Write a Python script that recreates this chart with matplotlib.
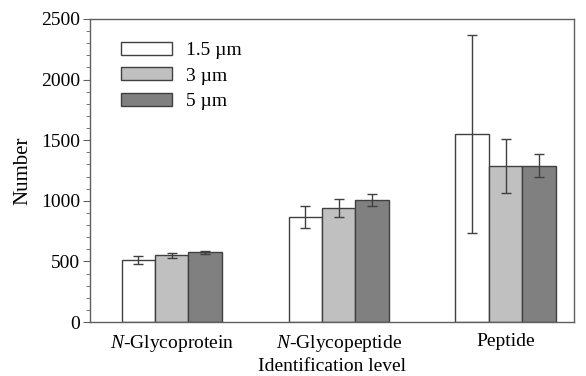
import matplotlib.pyplot as plt
import numpy as np

plt.rcParams['font.family'] = ['Liberation Serif', 'DejaVu Serif']
plt.rcParams['mathtext.fontset'] = 'custom'
plt.rcParams['mathtext.rm'] = 'Liberation Serif'
plt.rcParams['mathtext.it'] = 'Liberation Serif:italic'

categories = ["$\\mathit{N}$-Glycoprotein", "$\\mathit{N}$-Glycopeptide", "Peptide"]
series = ["1.5 µm", "3 µm", "5 µm"]
values = [
    [512, 866, 1551],
    [551, 942, 1290],
    [575, 1006, 1290],
]
errors = [
    [33, 88, 820],
    [22, 75, 222],
    [14, 48, 92],
]
colors = ["#ffffff", "#c0c0c0", "#808080"]

fig = plt.figure(figsize=(5.86, 3.76), dpi=100)
ax = fig.add_axes([0.1536, 0.1436, 0.8259, 0.8059])

x = np.arange(len(categories))
w = 0.2
for i in range(3):
    ax.bar(x + (i - 1) * w, values[i], w, color=colors[i], edgecolor="#404040",
           linewidth=1.0, label=series[i],
           yerr=errors[i], capsize=3.6,
           error_kw=dict(ecolor="#404040", elinewidth=1.0, capthick=1.0))

ax.set_xlim(-0.49, 2.41)
ax.set_ylim(0, 2500)
ax.set_xticks(x)
ax.set_xticklabels(categories, fontsize=14)
ax.set_yticks(np.arange(0, 2501, 500))
ax.set_yticks(np.arange(0, 2501, 100), minor=True)
ax.tick_params(axis='y', labelsize=14, direction='out', length=5, color="#606060", pad=2)
ax.tick_params(axis='y', which='minor', length=3, color="#606060")
ax.tick_params(axis='x', length=0, pad=8)
for s in ax.spines.values():
    s.set_color("#606060")
    s.set_linewidth(1.0)

ax.set_ylabel("Number", fontsize=15, labelpad=6)
ax.set_xlabel("Identification level", fontsize=14, labelpad=2.5)

ax.legend(loc="upper left", bbox_to_anchor=(0.065, 0.925), frameon=False, fontsize=14,
          handlelength=2.6, handleheight=0.65, labelspacing=0.42, handletextpad=0.7,
          borderaxespad=0, borderpad=0)

fig.savefig("out.png", dpi=100)
